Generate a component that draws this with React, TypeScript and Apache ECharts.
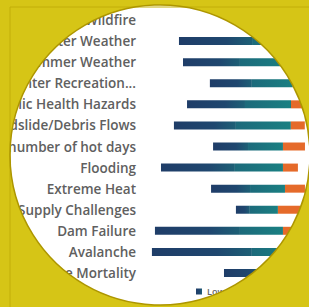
import React, { useEffect, useRef } from "react";
import * as echarts from "echarts";

const categories = [
  "Wildfire",
  "Severe Winter Weather",
  "Severe Summer Weather",
  "Changes in Winter Recreation...",
  "Public Health Hazards",
  "Landslide/Debris Flows",
  "Increased number of hot days",
  "Flooding",
  "Extreme Heat",
  "Water Supply Challenges",
  "Dam Failure",
  "Avalanche",
  "Tree Mortality",
];

const noneValues = [54, 22.6, 25, 41, 27.4, 19.6, 42.9, 11.9, 41.7, 56.5, 8.3, 6.5, 49.4];
const lowValues = [21.4, 43.5, 33.9, 25, 34.5, 36.9, 20.8, 44, 23.2, 8.3, 50.6, 59.5, 22.6];
const mediumValues = [14.3, 22.6, 28.6, 24.4, 27.4, 32.7, 20.8, 28.6, 20.8, 16.7, 25.6, 22.6, 16.7];
const highValues = [6, 6, 6.5, 4.8, 7.1, 8.3, 13.1, 8.9, 11.9, 14.3, 5.4, 4.8, 6];

const legendNames = ["Low", "Medium", "High"];

export default function App() {
  const ref = useRef<HTMLDivElement>(null);
  useEffect(() => {
    if (!ref.current) return;
    const chart = echarts.init(ref.current, undefined, { renderer: "svg" });
    const lowColor = new echarts.graphic.LinearGradient(0, 0, 1, 0, [
      { offset: 0, color: "#1f3d68" },
      { offset: 0.65, color: "#1f476f" },
      { offset: 1, color: "#1d6076" },
    ]);
    const medColor = new echarts.graphic.LinearGradient(0, 0, 1, 0, [
      { offset: 0, color: "#1c6a7b" },
      { offset: 1, color: "#1a8082" },
    ]);
    const bar = (name: string, data: number[], color: any) => ({
      name,
      type: "bar",
      stack: "s",
      barWidth: 8,
      data,
      itemStyle: { color },
      silent: true,
    });
    chart.setOption({
      animation: false,
      backgroundColor: "#ffffff",
      grid: {
        left: 141,
        right: 0,
        top: 9.5,
        bottom: 23.5,
        containLabel: false,
        outerBoundsMode: "none",
      },
      xAxis: {
        type: "value",
        min: 0,
        max: 100,
        show: false,
      },
      yAxis: {
        type: "category",
        inverse: true,
        data: categories,
        axisLine: { show: false },
        axisTick: { show: false },
        splitLine: { show: false },
        axisLabel: {
          margin: 5,
          color: "#606060",
          fontFamily: "Open Sans",
          fontWeight: 600,
          fontSize: 13.5,
        },
      },
      legend: {
        data: legendNames,
        left: 196,
        top: 287,
        padding: 0,
        itemWidth: 6,
        itemHeight: 6,
        itemGap: 5,
        icon: "rect",
        textStyle: { fontSize: 9, color: "#666", fontFamily: "Open Sans", fontWeight: 600 },
      },
      series: [
        bar("None", noneValues, "rgba(0,0,0,0)"),
        bar("Low", lowValues, lowColor),
        bar("Medium", mediumValues, medColor),
        bar("High", highValues, "#e56a2a"),
      ],
      graphic: [
        {
          type: "ring",
          z: 100,
          silent: true,
          shape: { cx: 160, cy: 155, r0: 150, r: 260 },
          style: { fill: "#d6c516" },
        },
        {
          type: "rect",
          z: 101,
          silent: true,
          shape: { x: 10, y: 7, width: 320, height: 320 },
          style: { fill: "none", stroke: "#c2ae08", lineWidth: 1 },
        },
        {
          type: "circle",
          z: 102,
          silent: true,
          shape: { cx: 160, cy: 155, r: 150 },
          style: { fill: "none", stroke: "#ad9600", lineWidth: 1.5 },
        },
      ],
    });
    return () => chart.dispose();
  }, []);
  return (
    <div
      ref={ref}
      style={{ position: "fixed", left: 0, top: 0, width: 309, height: 307 }}
    />
  );
}
